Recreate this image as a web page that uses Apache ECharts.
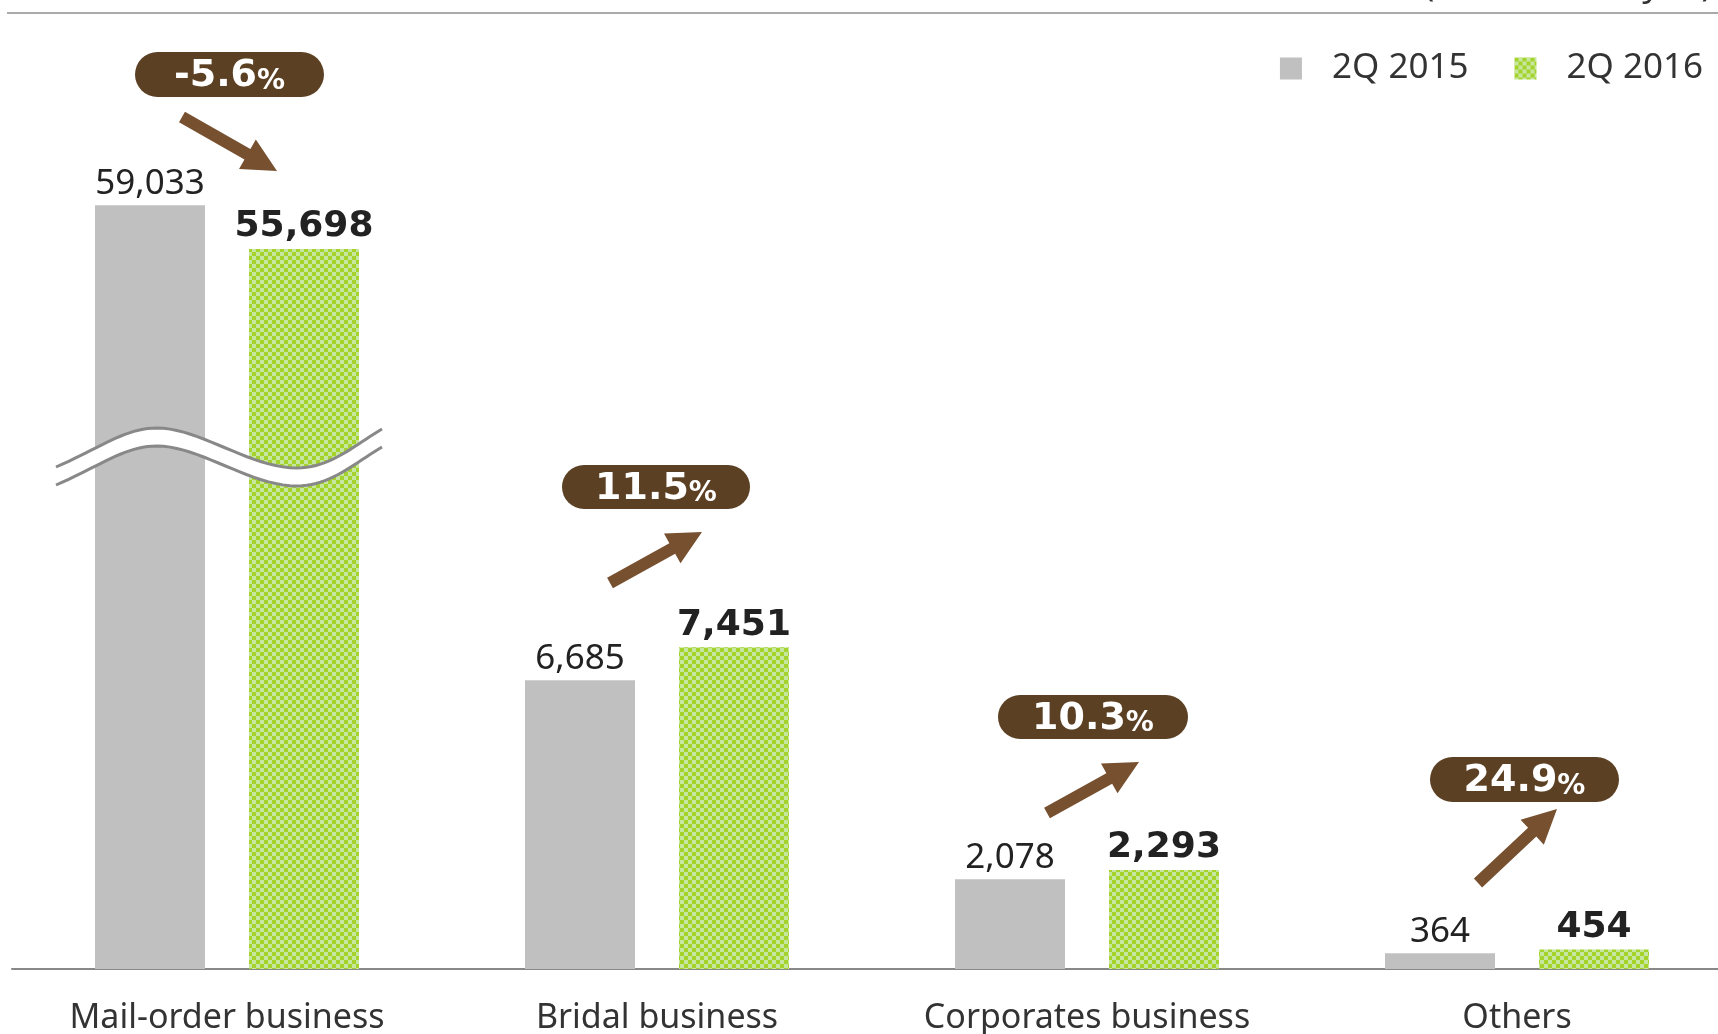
<!DOCTYPE html>
<html><head><meta charset="utf-8">
<script src="https://cdn.jsdelivr.net/npm/echarts@6/dist/echarts.min.js"></script>
<style>html,body{margin:0;padding:0;background:#fff}#c{width:1718px;height:1034px}</style>
</head><body><div id="c"></div>
<script>
// ---------- data ----------
const categories = ['Mail-order business', 'Bridal business', 'Corporates business', 'Others'];
const seriesNames = ['2Q 2015', '2Q 2016'];
const values2015 = [59033, 6685, 2078, 364];
const values2016 = [55698, 7451, 2293, 454];
const changeLabels = ['-5.6', '11.5', '10.3', '24.9'];
const unitLabel = '(Unit: million yen)';

// ---------- scale settings (broken value axis) ----------
const axisBreaks = [
  { start: 11400, end: 51331, gap: 900 },
  { start: 56000, end: 58417, gap: 100 }
];

// ---------- annotation layout (pixels) ----------
const badgeBoxes = [[135, 52, 189, 45], [562, 465, 188, 44], [998, 695, 190, 44], [1430, 757, 189, 45]];
const arrowLines = [[[182, 117], [277, 171]], [[610, 583], [702, 532]], [[1047, 813], [1139, 762]], [[1478, 883], [1557, 809]]];
// wave (break marker): cubic segments [p0, c1, c2, p1]
const waveSegs = [
  [[56, 467], [100, 448], [125, 428], [157, 428]],
  [[157, 428], [200, 428], [250, 468], [297, 468]],
  [[297, 468], [330, 468], [355, 445], [382, 429]]
];
const waveGap = 18;

function makePattern() {
  const c = document.createElement('canvas');
  c.width = 8; c.height = 8;
  const g = c.getContext('2d');
  g.fillStyle = '#c6e79f'; g.fillRect(0, 0, 8, 8);
  g.fillStyle = '#a6d32b'; g.fillRect(0, 0, 4, 4); g.fillRect(4, 4, 4, 4);
  return c;
}
const greenPattern = { image: makePattern(), repeat: 'repeat' };

function arrowPoints(t, p) {
  const dx = p[0] - t[0], dy = p[1] - t[1], L = Math.hypot(dx, dy);
  const ux = dx / L, uy = dy / L, nx = -uy, ny = ux;
  const hl = 34, hw = 17, sw = 6;
  const bx = p[0] - ux * hl, by = p[1] - uy * hl;
  return [[t[0] + nx * sw, t[1] + ny * sw], [bx + nx * sw, by + ny * sw], [bx + nx * hw, by + ny * hw], p,
          [bx - nx * hw, by - ny * hw], [bx - nx * sw, by - ny * sw], [t[0] - nx * sw, t[1] - ny * sw]];
}
function sampleWave(dy) {
  const pts = [];
  waveSegs.forEach((s, si) => {
    for (let k = (si === 0 ? 0 : 1); k <= 20; k++) {
      const t = k / 20, m = 1 - t;
      const x = m*m*m*s[0][0] + 3*m*m*t*s[1][0] + 3*m*t*t*s[2][0] + t*t*t*s[3][0];
      const y = m*m*m*s[0][1] + 3*m*m*t*s[1][1] + 3*m*t*t*s[2][1] + t*t*t*s[3][1];
      pts.push([x, y + dy]);
    }
  });
  return pts;
}
const upperWave = sampleWave(0);
const lowerWave = sampleWave(waveGap);

const fmt = v => v.toLocaleString('en-US');

const graphics = [
  { type: 'line', z: 100, shape: { x1: 7, y1: 13, x2: 1718, y2: 13 }, style: { stroke: '#aaaaaa', lineWidth: 2 } },
  { type: 'text', z: 100, style: { text: unitLabel, x: 1712, y: -14, align: 'right', verticalAlign: 'middle',
      fontSize: 35, fontFamily: 'Noto Sans', fill: '#333' } },
  { type: 'polygon', z: 100, shape: { points: upperWave.concat(lowerWave.slice().reverse()) },
    style: { fill: '#ffffff' } },
  { type: 'polyline', z: 101, shape: { points: upperWave }, style: { fill: null, stroke: '#888888', lineWidth: 3 } },
  { type: 'polyline', z: 101, shape: { points: lowerWave }, style: { fill: null, stroke: '#888888', lineWidth: 3 } }
];
changeLabels.forEach((lab, i) => {
  const b = badgeBoxes[i];
  graphics.push({ type: 'rect', z: 100, shape: { x: b[0], y: b[1], width: b[2], height: b[3], r: b[3] / 2 },
    style: { fill: '#5c4023' } });
  graphics.push({ type: 'text', z: 101, style: {
    text: '{n|' + lab + '}{p|%}', x: b[0] + b[2] / 2, y: b[1] + b[3] / 2 + 1, align: 'center', verticalAlign: 'middle',
    rich: {
      n: { fontSize: 38, fontWeight: 'bold', fontFamily: 'DejaVu Sans', fill: '#ffffff', lineHeight: 40, verticalAlign: 'bottom' },
      p: { fontSize: 28, fontWeight: 'bold', fontFamily: 'DejaVu Sans', fill: '#ffffff', lineHeight: 40, verticalAlign: 'bottom' }
    } } });
  graphics.push({ type: 'polygon', z: 100, shape: { points: arrowPoints(arrowLines[i][0], arrowLines[i][1]) },
    style: { fill: '#77502f' } });
});

const chart = echarts.init(document.getElementById('c'), null, { renderer: 'canvas' });
chart.setOption({
  backgroundColor: '#ffffff',
  animation: false,
  textStyle: { fontFamily: 'Noto Sans' },
  legend: {
    data: seriesNames, right: 15, top: 51, padding: 0, itemWidth: 22, itemHeight: 22, itemGap: 46,
    icon: 'rect',
    textStyle: { fontSize: 35, color: '#333', fontFamily: 'Noto Sans', padding: [0, 0, 0, 25] }
  },
  grid: { left: 12, width: 1720, top: 77, bottom: 65, outerBoundsMode: 'none' },
  xAxis: {
    type: 'category', data: categories,
    axisLine: { show: true, lineStyle: { color: '#888', width: 2 } },
    axisTick: { show: false },
    axisLabel: { interval: 0, margin: 32, fontSize: 34, color: '#333', fontFamily: 'Noto Sans' }
  },
  yAxis: {
    type: 'value', min: 0, max: 62000, show: false,
    breaks: axisBreaks,
    breakArea: { show: false },
    splitLine: { show: false }
  },
  series: [
    {
      name: seriesNames[0], type: 'bar', data: values2015, barWidth: 110, barGap: '40%',
      itemStyle: { color: '#c0c0c0' },
      label: { show: true, position: 'top', distance: 4, fontSize: 35, color: '#222', fontFamily: 'Noto Sans',
        formatter: p => fmt(p.value) }
    },
    {
      name: seriesNames[1], type: 'bar', data: values2016, barWidth: 110,
      itemStyle: { color: greenPattern },
      label: { show: true, position: 'top', distance: 4, fontSize: 36, fontWeight: 'bold', color: '#222', fontFamily: 'DejaVu Sans',
        formatter: p => fmt(p.value) }
    }
  ],
  graphic: graphics
});
</script>
</body></html>
